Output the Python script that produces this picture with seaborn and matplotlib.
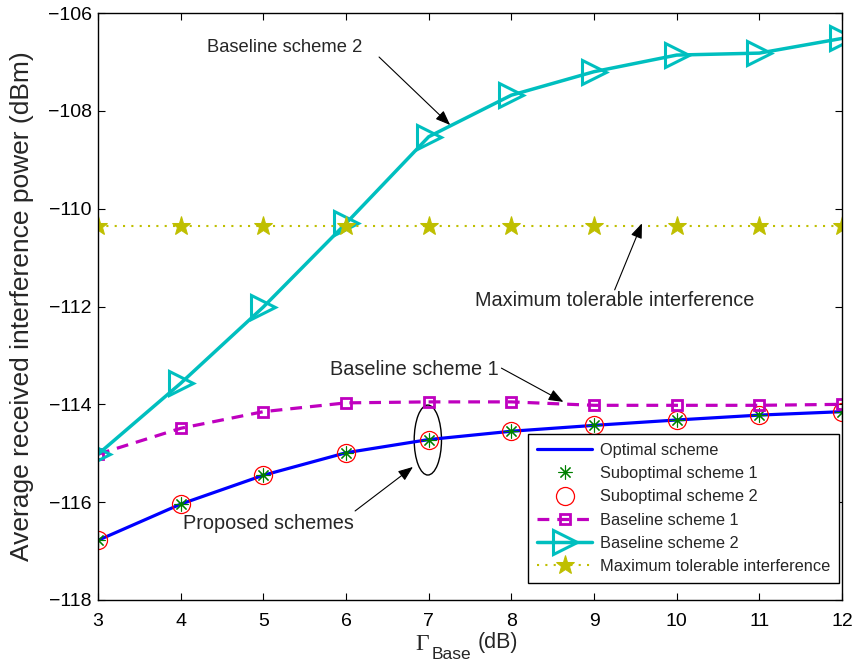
import numpy as np
import pandas as pd
import matplotlib
matplotlib.use("Agg")
import matplotlib.pyplot as plt
from matplotlib.patches import Ellipse
import seaborn as sns

# ---- data ----
gamma_base = [3, 4, 5, 6, 7, 8, 9, 10, 11, 12]
optimal = [-116.78, -116.04, -115.45, -114.99, -114.72, -114.55, -114.43, -114.32, -114.22, -114.15]
suboptimal1 = [-116.78, -116.04, -115.45, -114.99, -114.72, -114.55, -114.43, -114.32, -114.22, -114.15]
suboptimal2 = [-116.78, -116.04, -115.45, -114.99, -114.72, -114.55, -114.43, -114.32, -114.22, -114.15]
baseline1 = [-115.02, -114.49, -114.15, -113.97, -113.95, -113.95, -114.02, -114.02, -114.02, -114.00]
baseline2 = [-115.02, -113.57, -112.01, -110.30, -108.53, -107.68, -107.20, -106.86, -106.82, -106.52]
max_tol = [-110.35] * 10
x_ticks = [3, 4, 5, 6, 7, 8, 9, 10, 11, 12]
y_ticks = [-118, -116, -114, -112, -110, -108, -106]

df = pd.DataFrame({"g": gamma_base, "opt": optimal, "s1": suboptimal1, "s2": suboptimal2,
                   "b1": baseline1, "b2": baseline2, "mt": max_tol})

sns.set_style("ticks")
plt.rcParams["font.family"] = ["Liberation Sans", "DejaVu Sans"]

W, H = 855, 663
fig = plt.figure(figsize=(W / 100, H / 100), dpi=100)
ax = fig.add_axes([98 / W, 63 / H, 744 / W, 587 / H])

green = (0, 0.5, 0)
mag = (0.75, 0, 0.75)
cyan = (0, 0.75, 0.75)
yel = (0.75, 0.75, 0)

sns.lineplot(data=df, x="g", y="opt", ax=ax, color=(0, 0, 1), lw=2.3, label="Optimal scheme")
sns.lineplot(data=df, x="g", y="s1", ax=ax, color=green, linestyle="none", marker=(8, 2, 0),
             markersize=10, markeredgewidth=0.8, markeredgecolor=green, markerfacecolor=green,
             label="Suboptimal scheme 1")
sns.lineplot(data=df, x="g", y="s2", ax=ax, color="red", linestyle="none", marker="o",
             markersize=13, markerfacecolor="none", markeredgecolor="red", markeredgewidth=0.9,
             label="Suboptimal scheme 2")
sns.lineplot(data=df, x="g", y="b1", ax=ax, color=mag, lw=2.3, linestyle=(0, (3.7, 2.5)),
             marker="s", markersize=7, markerfacecolor="none", markeredgecolor=mag,
             markeredgewidth=2, label="Baseline scheme 1")
sns.lineplot(data=df, x="g", y="b2", ax=ax, color=cyan, lw=2.5, marker=">",
             markersize=17, markerfacecolor="none", markeredgecolor=cyan,
             markeredgewidth=2.2, label="Baseline scheme 2")
sns.lineplot(data=df, x="g", y="mt", ax=ax, color=yel, lw=1.5, linestyle=(0, (1, 3)),
             marker="*", markersize=14, markerfacecolor=yel, markeredgecolor=yel,
             label="Maximum tolerable interference")

ax.set_xlim(3, 12)
ax.set_ylim(-118, -106)
ax.set_xticks(x_ticks)
ax.set_yticks(y_ticks)
ax.set_xticklabels([str(v) for v in x_ticks])
ax.set_yticklabels([f"\u2212{abs(v)}" for v in y_ticks])
ax.tick_params(direction="in", top=True, right=True, length=5, width=0.8, labelsize=14, colors="black")
ax.tick_params(axis="x", pad=9)
ax.tick_params(axis="y", pad=4.5)
for s in ax.spines.values():
    s.set_linewidth(1.0)
    s.set_color("black")

ax.set_xlabel("")
ax.set_ylabel("Average received interference power (dBm)", fontsize=19, labelpad=10)

# x label: Gamma with large subscript
fig.text(415 / W, 1 - 650 / H, "\u0393", family="Liberation Serif", fontsize=17, ha="left", va="baseline")
fig.text(432 / W, 1 - 659 / H, "Base", fontsize=12.5, ha="left", va="baseline")
fig.text(478 / W, 1 - 648 / H, "(dB)", fontsize=15.5, ha="left", va="baseline")

leg = ax.legend(loc="lower right", bbox_to_anchor=(839 / W, (H - 583) / H),
                bbox_transform=fig.transFigure, borderaxespad=0, fontsize=11.8,
                frameon=True, fancybox=False, edgecolor="black", framealpha=1, handlelength=3.4,
                labelspacing=0.5, borderpad=0.55, handletextpad=0.45)
leg.get_frame().set_linewidth(1.0)

arrowprops = dict(arrowstyle="-|>,head_length=0.9,head_width=0.35", color="black", lw=0.8,
                  shrinkA=0, shrinkB=0)
ax.text(5.26, -106.70, "Baseline scheme 2", ha="center", va="center", fontsize=13.2)
ax.annotate("", xy=(7.26, -108.29), xytext=(6.40, -106.90), arrowprops=arrowprops)

ax.text(9.25, -111.87, "Maximum tolerable interference", ha="center", va="center", fontsize=14.3)
ax.annotate("", xy=(9.58, -110.30), xytext=(9.25, -111.66), arrowprops=arrowprops)

ax.text(6.83, -113.28, "Baseline scheme 1", ha="center", va="center", fontsize=14.3)
ax.annotate("", xy=(8.63, -113.95), xytext=(7.88, -113.26), arrowprops=arrowprops)

ax.text(5.06, -116.43, "Proposed schemes", ha="center", va="center", fontsize=14.3)
ax.annotate("", xy=(6.81, -115.28), xytext=(6.11, -116.18), arrowprops=arrowprops)

ax.add_patch(Ellipse((6.99, -114.73), 0.33, 1.43, fill=False, edgecolor="black", lw=1.0))

fig.savefig("out.png", dpi=100)
